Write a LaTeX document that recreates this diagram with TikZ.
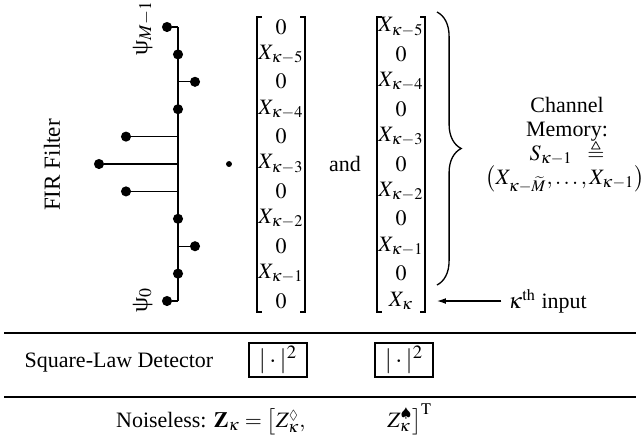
\documentclass[tikz,border=0pt]{standalone}
\usepackage{mathptmx}
\usepackage{amssymb}
\usepackage[no-math]{fontspec}
\setmainfont{Liberation Serif}
\usetikzlibrary{decorations.pathreplacing,arrows.meta}
\begin{document}
\begin{tikzpicture}[x=0.455pt,y=-0.455pt,
  axisline/.style={line width=0.9pt},
  stemline/.style={line width=0.6pt},
  tapdot/.style={circle,fill,inner sep=0pt,minimum size=4.6pt},
  entry/.style={inner sep=0pt,anchor=center},
  bracketline/.style={line width=0.5pt},
  sqbox/.style={draw,line width=0.7pt,minimum width=26.4pt,minimum height=15.5pt,inner sep=0pt,font=\fontsize{11.5}{13}\selectfont},
  rule/.style={line width=0.8pt},
  lbl/.style={inner sep=0pt}]
\useasboundingbox (0,0) rectangle (642,435);

% FIR filter label
\node[lbl,rotate=90,font=\fontsize{10.5}{12}\selectfont] (fir) at (52,165) {FIR Filter};

% stem plot
\draw[axisline] (178,27) -- (178,301);
\foreach \xx [count=\i from 0] in {167,178,195,178,126,99,126,178,195,178,167}{
  \coordinate (s\i) at (178,{27+27.4*\i});
  \node[tapdot] (t\i) at (\xx,{27+27.4*\i}) {};
  \draw[stemline] (s\i) -- (t\i);
}
\node[lbl,rotate=90,anchor=south,font=\fontsize{11}{13}\selectfont] (psiM) at (153,28) {ψ$_{M-1}$};
\node[lbl,rotate=90,anchor=south,font=\fontsize{11}{13}\selectfont] (psi0) at (153,300) {ψ$_{0}$};

% product dot
\node[circle,fill,inner sep=0pt,minimum size=2.7pt] (prod) at (229,164) {};

% first vector
\foreach \e [count=\i from 0] in {0,X_{\kappa-5},0,X_{\kappa-4},0,X_{\kappa-3},0,X_{\kappa-2},0,X_{\kappa-1},0}{
  \node[entry] (a\i) at (281,{27+27.4*\i}) {$\e$};
}
\draw[bracketline] (262,17) -- (257,17) -- (257,312) -- (262,312);
\draw[bracketline] (300,17) -- (305,17) -- (305,312) -- (300,312);

\node[lbl] (and) at (345,164) {and};

% second vector
\foreach \e [count=\i from 0] in {X_{\kappa-5},0,X_{\kappa-4},0,X_{\kappa-3},0,X_{\kappa-2},0,X_{\kappa-1},0,X_{\kappa}}{
  \node[entry] (b\i) at (401,{27+27.4*\i}) {$\e$};
}
\draw[bracketline] (382,17) -- (377,17) -- (377,312) -- (382,312);
\draw[bracketline] (420,17) -- (425,17) -- (425,312) -- (420,312);

% brace
\draw[line width=0.6pt,decorate,decoration={brace,amplitude=11pt,aspect=0.5}] (437,12) -- (437,285);

% channel memory
\node[lbl,anchor=base] (cm1) at (567,112) {Channel};
\node[lbl,anchor=base] (cm2) at (567,136) {Memory:};
\node[lbl,anchor=base] (cm3) at (567,160) {$S_{\kappa-1}\;\;\triangleq$};
\node[lbl,anchor=base] (cm4) at (565,184) {$\bigl(X_{\kappa-\widetilde{M}},\ldots,X_{\kappa-1}\bigr)$};

% kth input
\node[lbl,anchor=west] (kin) at (508,301) {$\kappa^{\mathrm{th}}$ input};
\coordinate (tip) at (437,301);
\draw[line width=0.5pt,-{Latex[length=4pt,width=2.6pt]}] ([xshift=-3pt]kin.west) -- (tip);

% rules
\coordinate (r1a) at (4,333); \coordinate (r1b) at (636,333);
\coordinate (r2a) at (4,397); \coordinate (r2b) at (636,397);
\draw[rule] (r1a) -- (r1b);
\draw[rule] (r2a) -- (r2b);

% square-law detector
\node[lbl] (sld) at (119,363) {Square-Law Detector};
\node[sqbox] (box1) at (278,360) {$|\cdot|^{2}$};
\node[sqbox] (box2) at (404,360) {$|\cdot|^{2}$};

% noiseless
\node[lbl,anchor=base east] (nl1) at (306,427) {Noiseless: $\mathbf{Z}_{\kappa}=\bigl[Z_{\kappa}^{\scriptscriptstyle\Diamond},$};
\node[lbl,anchor=base west] (nl2) at (387,427) {$Z_{\kappa}^{\scriptscriptstyle\spadesuit}\bigr]^{\mathrm{T}}$};
\end{tikzpicture}
\end{document}
